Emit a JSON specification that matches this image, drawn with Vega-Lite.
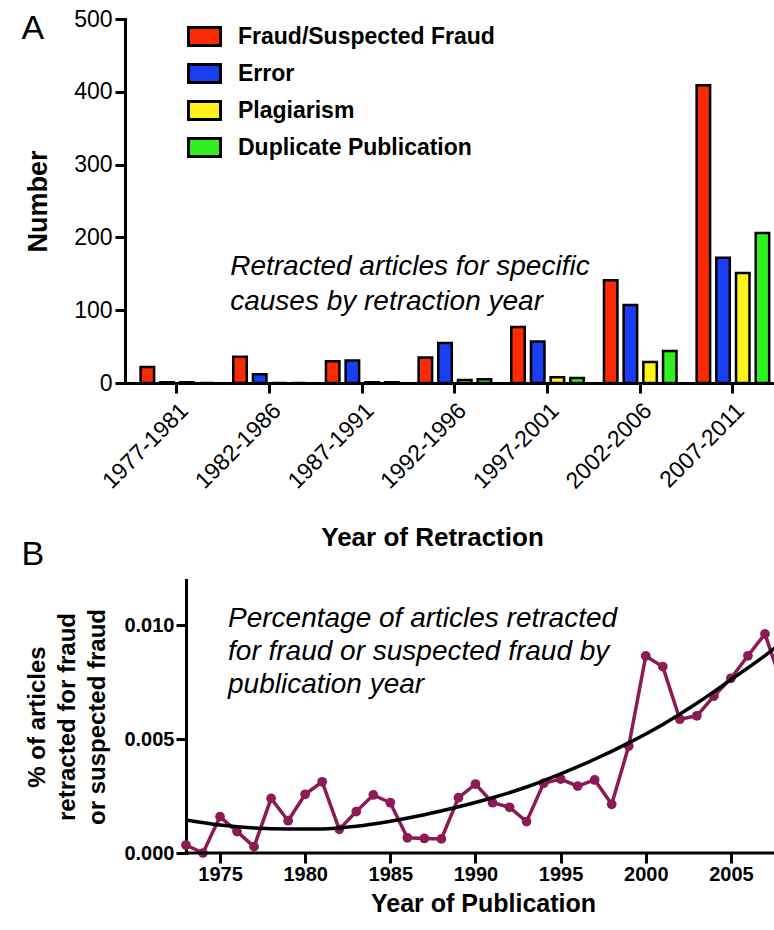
{
  "$schema": "https://vega.github.io/schema/vega-lite/v6.json",
  "background": "white",
  "padding": {"left": 21, "top": 8, "right": 0, "bottom": 0},
  "columns": 1,
  "spacing": -14,
  "config": {
    "font": "Liberation Sans",
    "view": {"stroke": null},
    "axis": {
      "domainColor": "black", "domainWidth": 3, "domainCap": "square",
      "tickColor": "black", "tickWidth": 3, "tickSize": 10,
      "labelColor": "black", "titleColor": "black", "grid": false,
      "labelFont": "Liberation Sans", "titleFont": "Liberation Sans"
    }
  },
  "concat": [
    {
      "width": 649,
      "height": 364,
      "resolve": {"axis": {"x": "independent"}},
      "layer": [
        {
          "data": {"values": [
            {"period": "1977-1981", "cause": "Fraud/Suspected Fraud", "count": 22},
            {"period": "1977-1981", "cause": "Error", "count": 1},
            {"period": "1977-1981", "cause": "Plagiarism", "count": 1},
            {"period": "1977-1981", "cause": "Duplicate Publication", "count": 0},
            {"period": "1982-1986", "cause": "Fraud/Suspected Fraud", "count": 36},
            {"period": "1982-1986", "cause": "Error", "count": 12},
            {"period": "1982-1986", "cause": "Plagiarism", "count": 0},
            {"period": "1982-1986", "cause": "Duplicate Publication", "count": 0},
            {"period": "1987-1991", "cause": "Fraud/Suspected Fraud", "count": 30},
            {"period": "1987-1991", "cause": "Error", "count": 31},
            {"period": "1987-1991", "cause": "Plagiarism", "count": 1},
            {"period": "1987-1991", "cause": "Duplicate Publication", "count": 1},
            {"period": "1992-1996", "cause": "Fraud/Suspected Fraud", "count": 35},
            {"period": "1992-1996", "cause": "Error", "count": 55},
            {"period": "1992-1996", "cause": "Plagiarism", "count": 4},
            {"period": "1992-1996", "cause": "Duplicate Publication", "count": 5},
            {"period": "1997-2001", "cause": "Fraud/Suspected Fraud", "count": 77},
            {"period": "1997-2001", "cause": "Error", "count": 57},
            {"period": "1997-2001", "cause": "Plagiarism", "count": 8},
            {"period": "1997-2001", "cause": "Duplicate Publication", "count": 7},
            {"period": "2002-2006", "cause": "Fraud/Suspected Fraud", "count": 141},
            {"period": "2002-2006", "cause": "Error", "count": 107},
            {"period": "2002-2006", "cause": "Plagiarism", "count": 29},
            {"period": "2002-2006", "cause": "Duplicate Publication", "count": 44},
            {"period": "2007-2011", "cause": "Fraud/Suspected Fraud", "count": 409},
            {"period": "2007-2011", "cause": "Error", "count": 172},
            {"period": "2007-2011", "cause": "Plagiarism", "count": 151},
            {"period": "2007-2011", "cause": "Duplicate Publication", "count": 206}
          ]},
          "mark": {"type": "bar", "stroke": "black", "strokeWidth": 2.5},
          "encoding": {
            "x": {
              "field": "period", "type": "nominal", "sort": null,
              "scale": {"paddingInner": 0.15, "paddingOuter": 0.0766, "align": 0.88},
              "axis": {"orient": "bottom", "labelAngle": -45, "labelFontSize": 23, "labelPadding": 6, "title": "Year of Retraction", "titleFontSize": 26, "titleFontWeight": "bold", "titlePadding": 31, "titleX": 307}
            },
            "xOffset": {
              "field": "cause", "type": "nominal",
              "sort": ["Fraud/Suspected Fraud", "Error", "Plagiarism", "Duplicate Publication"],
              "scale": {"paddingInner": 0.315, "paddingOuter": 0.1575}
            },
            "y": {
              "field": "count", "type": "quantitative",
              "scale": {"domain": [0, 500], "nice": false},
              "axis": {"values": [0, 100, 200, 300, 400, 500], "labelFontSize": 23, "labelPadding": 3, "title": "Number", "titleFontSize": 27, "titleFontWeight": "bold", "titlePadding": 21}
            },
            "color": {
              "field": "cause", "type": "nominal",
              "scale": {"domain": ["Fraud/Suspected Fraud", "Error", "Plagiarism", "Duplicate Publication"], "range": ["#fa2a05", "#1a3ff2", "#fff21c", "#2ef01e"]},
              "legend": {
                "title": null, "orient": "none", "legendX": 62, "legendY": 0,
                "symbolType": "M-1,-0.57H1V0.57H-1Z", "symbolSize": 1024,
                "symbolStrokeColor": "black", "symbolStrokeWidth": 3, "symbolOpacity": 1,
                "labelFontSize": 23, "labelFontWeight": "bold", "labelColor": "black", "labelFont": "Liberation Sans",
                "labelOffset": 16, "rowPadding": 4, "padding": 0, "labelLimit": 400
              }
            }
          }
        },
        {
          "data": {"values": [{"note": "A"}]},
          "mark": {"type": "text", "text": ["Retracted articles for specific", "causes by retraction year"], "align": "left", "baseline": "alphabetic", "fontSize": 28, "fontStyle": "italic", "lineHeight": 35, "color": "black"},
          "encoding": {
            "x": {"datum": "1982-1986", "bandPosition": 0, "axis": {"orient": "top", "domain": false, "ticks": false, "labels": false, "title": "A", "titleX": -104, "titleY": 19, "titleAngle": 0, "titleAlign": "left", "titleBaseline": "alphabetic", "titleFontSize": 34, "titleFontWeight": "normal"}},
            "y": {"datum": 148}
          }
        }
      ]
    },
    {
      "width": 649,
      "height": 273,
      "resolve": {"axis": {"x": "independent"}},
      "layer": [
        {
          "data": {"values": [
            {"year": 1973, "pct": 0.00035}, {"year": 1974, "pct": 0.0}, {"year": 1975, "pct": 0.0016},
            {"year": 1976, "pct": 0.00094}, {"year": 1977, "pct": 0.00028}, {"year": 1978, "pct": 0.0024},
            {"year": 1979, "pct": 0.00142}, {"year": 1980, "pct": 0.00258}, {"year": 1981, "pct": 0.00313},
            {"year": 1982, "pct": 0.00104}, {"year": 1983, "pct": 0.00182}, {"year": 1984, "pct": 0.00255},
            {"year": 1985, "pct": 0.00221}, {"year": 1986, "pct": 0.00067}, {"year": 1987, "pct": 0.00064},
            {"year": 1988, "pct": 0.00062}, {"year": 1989, "pct": 0.00243}, {"year": 1990, "pct": 0.00303},
            {"year": 1991, "pct": 0.00221}, {"year": 1992, "pct": 0.00201}, {"year": 1993, "pct": 0.00138},
            {"year": 1994, "pct": 0.00306}, {"year": 1995, "pct": 0.00325}, {"year": 1996, "pct": 0.00294},
            {"year": 1997, "pct": 0.00321}, {"year": 1998, "pct": 0.00214}, {"year": 1999, "pct": 0.0047},
            {"year": 2000, "pct": 0.00866}, {"year": 2001, "pct": 0.00819}, {"year": 2002, "pct": 0.00588},
            {"year": 2003, "pct": 0.00603}, {"year": 2004, "pct": 0.0069}, {"year": 2005, "pct": 0.00768},
            {"year": 2006, "pct": 0.00867}, {"year": 2007, "pct": 0.00963}, {"year": 2008, "pct": 0.0074}
          ]},
          "layer": [
            {
              "mark": {"type": "line", "color": "#8b1a55", "strokeWidth": 3.5, "clip": true},
              "encoding": {
                "x": {
                  "field": "year", "type": "quantitative",
                  "scale": {"domain": [1969.42, 2007.53], "nice": false, "zero": false},
                  "axis": {"orient": "bottom", "domain": false, "values": [1975, 1980, 1985, 1990, 1995, 2000, 2005], "format": "d", "labelFontSize": 20, "labelFontWeight": "bold", "labelPadding": 1, "labelFlush": false, "title": "Year of Publication", "titleFontSize": 25, "titleFontWeight": "bold", "titlePadding": 7, "titleX": 358}
                },
                "y": {
                  "field": "pct", "type": "quantitative",
                  "scale": {"domain": [0, 0.012], "nice": false},
                  "axis": {"offset": -61, "values": [0, 0.005, 0.01], "format": ".3f", "labelFontSize": 20, "labelFontWeight": "bold", "labelPadding": 2, "title": ["% of articles", "retracted for fraud", "or suspected fraud"], "titleFontSize": 24, "titleFontWeight": "bold", "titleLineHeight": 30, "titlePadding": 14}
                }
              }
            },
            {
              "transform": [{"filter": "datum.year <= 2007"}],
              "mark": {"type": "circle", "size": 95, "opacity": 1, "color": "#8b1a55"},
              "encoding": {
                "x": {"field": "year", "type": "quantitative"},
                "y": {"field": "pct", "type": "quantitative"}
              }
            }
          ]
        },
        {
          "data": {"values": [
            {"year": 1973, "fit": 0.00145}, {"year": 1975, "fit": 0.00123}, {"year": 1977, "fit": 0.0011},
            {"year": 1979, "fit": 0.00106}, {"year": 1981, "fit": 0.00106}, {"year": 1983, "fit": 0.00118},
            {"year": 1985, "fit": 0.0014}, {"year": 1987, "fit": 0.00168}, {"year": 1989, "fit": 0.00203},
            {"year": 1991, "fit": 0.00243}, {"year": 1993, "fit": 0.0029}, {"year": 1995, "fit": 0.00348},
            {"year": 1997, "fit": 0.00412}, {"year": 1999, "fit": 0.00484}, {"year": 2001, "fit": 0.00565},
            {"year": 2003, "fit": 0.00658}, {"year": 2005, "fit": 0.00762}, {"year": 2007, "fit": 0.00868},
            {"year": 2009, "fit": 0.00985}
          ]},
          "mark": {"type": "line", "color": "black", "strokeWidth": 3.5, "interpolate": "monotone", "clip": true},
          "encoding": {
            "x": {"field": "year", "type": "quantitative", "axis": null},
            "y": {"field": "fit", "type": "quantitative"}
          }
        },
        {
          "data": {"values": [{"note": "baseline"}]},
          "mark": {"type": "rule", "color": "black", "strokeWidth": 3, "strokeCap": "square"},
          "encoding": {
            "x": {"datum": 1973, "axis": null},
            "x2": {"datum": 2007.53},
            "y": {"datum": 0}
          }
        },
        {
          "data": {"values": [{"note": "B"}]},
          "mark": {"type": "text", "text": ["Percentage of articles retracted", "for fraud or suspected fraud by", "publication year"], "align": "left", "baseline": "alphabetic", "fontSize": 28, "fontStyle": "italic", "lineHeight": 33, "color": "black"},
          "encoding": {
            "x": {"datum": 1975.47, "axis": {"orient": "top", "domain": false, "ticks": false, "labels": false, "title": "B", "titleX": -104, "titleY": -16, "titleAngle": 0, "titleAlign": "left", "titleBaseline": "alphabetic", "titleFontSize": 34, "titleFontWeight": "normal"}},
            "y": {"datum": 0.00993}
          }
        }
      ]
    }
  ]
}
